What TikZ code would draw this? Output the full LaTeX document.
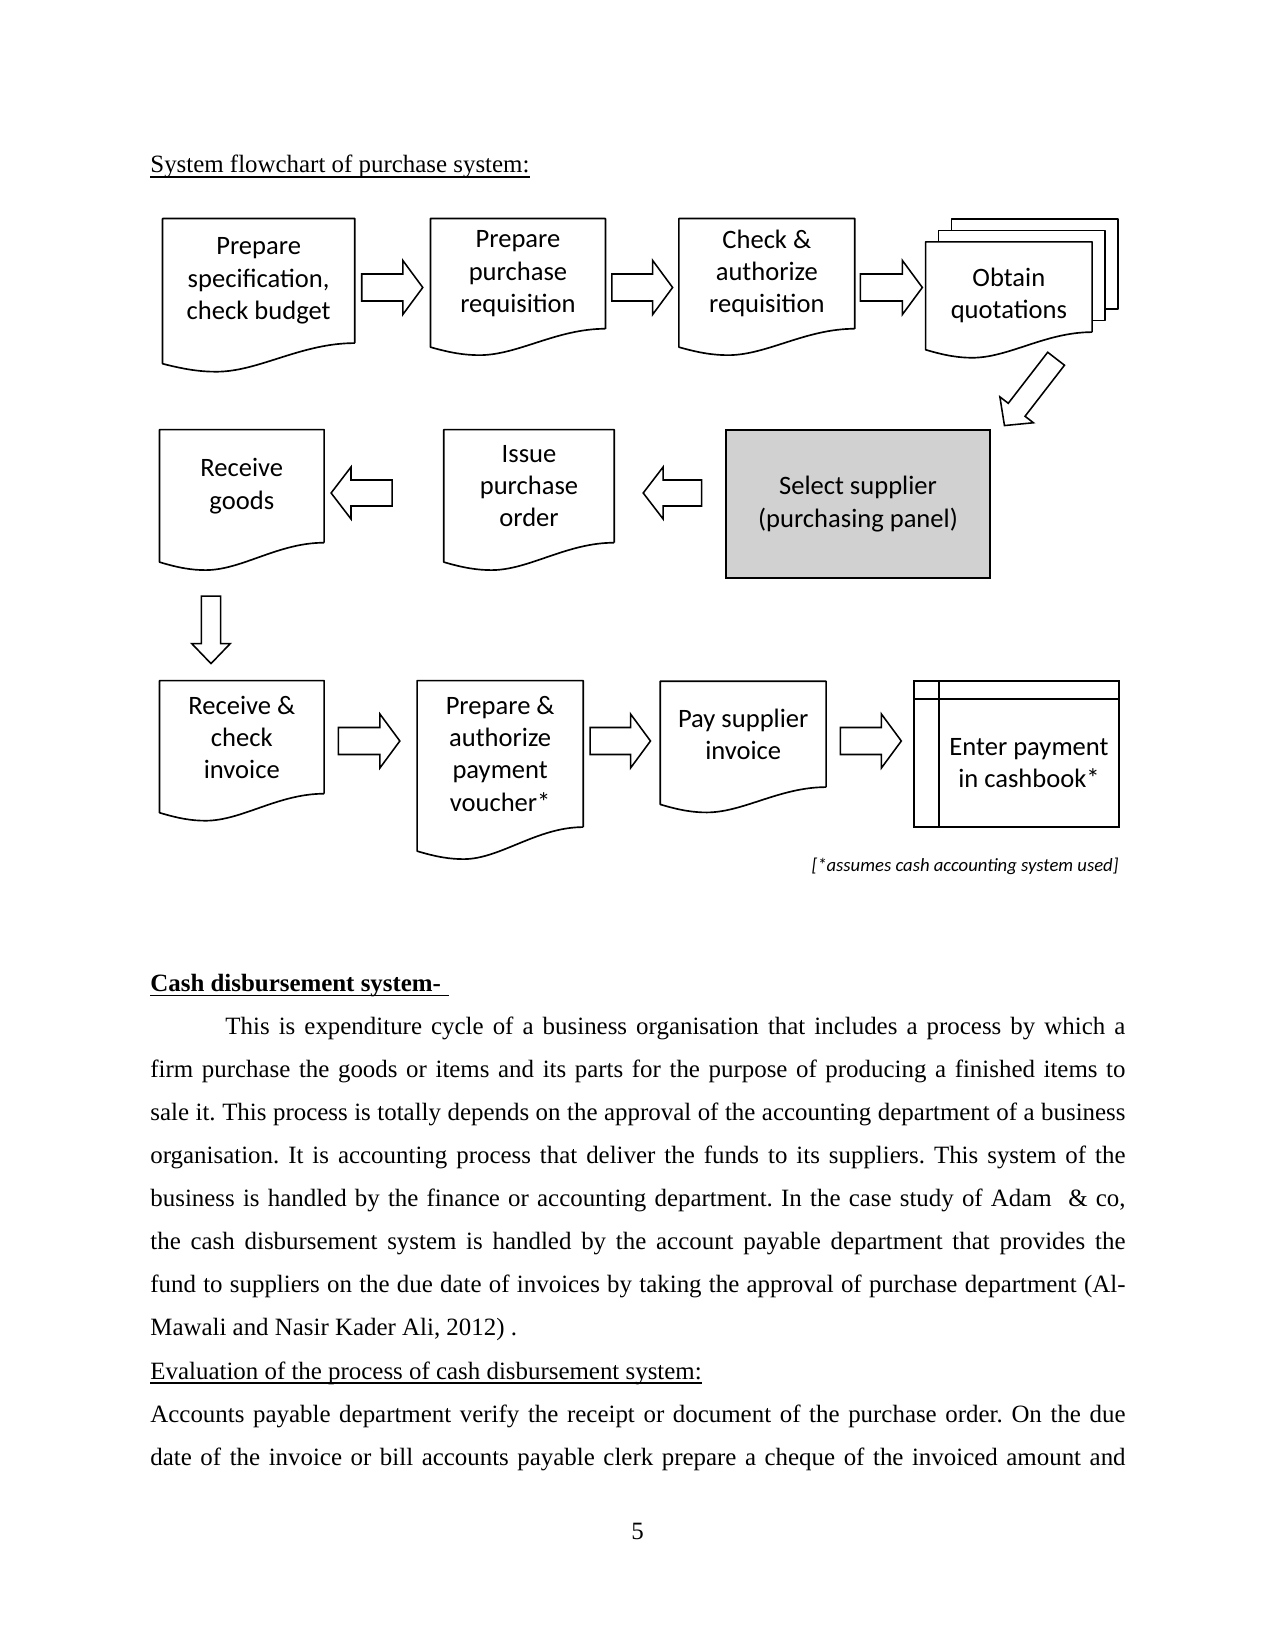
\documentclass[tikz,border=0pt]{standalone}
\usepackage{fontspec}
\setmainfont{Liberation Serif}
\newfontfamily\chartfont{Carlito}
\usetikzlibrary{calc}
\pgfdeclarelayer{background}
\pgfsetlayers{background,main}
\frenchspacing

\tikzstyle{docpage} = [
    rectangle,
    align=center,
    inner sep=0pt,
    font=\chartfont\fontsize{12.8}{15.5}\selectfont
]
\tikzstyle{process} = [
    rectangle,
    draw=black,
    line width=1.1pt,
    fill=black!18,
    align=center,
    font=\chartfont\fontsize{12.8}{15.5}\selectfont
]
\tikzstyle{docline} = [line width=0.8pt, line join=round]
\tikzstyle{blockline} = [line width=0.75pt, line join=miter]
\tikzstyle{ledgerline} = [line width=1pt]
\tikzstyle{bodytext} = [anchor=base west, inner sep=0pt, font=\fontsize{12}{14}\selectfont]
\tikzstyle{underrule} = [line width=0.7pt]

% document symbol: #2 = drop of the left bottom corner (px)
\newcommand{\docwave}[3][]{%
  \draw[docline,#1] (#2.south east) -- (#2.north east) -- (#2.north west)
    -- ($(#2.south west)+(0,#3)$)
    .. controls ($(#2.south west)!0.12!(#2.south east)+(0,#3+6)$)
    and ($(#2.south west)!0.2!(#2.south east)+(0,#3+8)$)
    .. ($(#2.south west)!0.28!(#2.south east)+(0,#3+8)$)
    .. controls ($(#2.south west)!0.5!(#2.south east)+(0,#3+8)$)
    and ($(#2.south west)!0.72!(#2.south east)$)
    .. (#2.south east);}

% hollow block arrow: #1 = half shaft width (px), #2 tail, #3 tip
\newcommand{\blockarrow}[3]{%
  \pgfmathsetlengthmacro{\shafthalf}{#1*0.4818pt}
  \pgfmathsetlengthmacro{\headhalf}{2*#1*0.4818pt}
  \coordinate (tail) at #2;
  \coordinate (tip) at #3;
  \coordinate (neck) at ($(tip)!9.6pt!(tail)$);
  \draw[blockline] ($(tail)!\shafthalf!90:(tip)$) -- ($(neck)!\shafthalf!90:(tip)$)
    -- ($(neck)!\headhalf!90:(tip)$) -- (tip) -- ($(neck)!\headhalf!-90:(tip)$)
    -- ($(neck)!\shafthalf!-90:(tip)$) -- ($(tail)!\shafthalf!-90:(tip)$) -- cycle;}

\begin{document}
\begin{tikzpicture}[x=0.4818pt, y=-0.4818pt]

\useasboundingbox (0,0) rectangle (1275,1651);

\node (title) [bodytext] at (150,173) {System flowchart of purchase system:};
\draw[underrule] ($(title.base west)+(0,4)$) -- ($(title.base east)+(0,4)$);

% flowchart
\node (A) [docpage, minimum width=92.2pt, minimum height=59.6pt] at (258.65,280.85)
{Prepare\\specification,\\check budget};
\node (B) [docpage, minimum width=83.9pt, minimum height=52.7pt] at (517.95,273.65)
{Prepare\\purchase\\requisition};
\node (C) [docpage, minimum width=84.3pt, minimum height=52.7pt] at (766.8,273.65)
{Check \&\\authorize\\requisition};
\node (D) [docpage, minimum width=79.8pt, minimum height=43.1pt] at (1008.85,287)
{\rule{0pt}{17pt}Obtain\\quotations};
\node (E) [process, minimum width=127.2pt, minimum height=71.3pt] at (858,504)
{Select supplier\\(purchasing panel)};
\node (F) [docpage, minimum width=81.7pt, minimum height=54.1pt] at (529,486.15)
{Issue\\purchase\\order};
\node (G) [docpage, minimum width=78.9pt, minimum height=54.1pt] at (241.8,486.15)
{Receive\\goods};
\node (H) [docpage, minimum width=78.9pt, minimum height=54.1pt] at (241.8,737.15)
{Receive \&\\check\\invoice};
\node (I) [docpage, minimum width=79.6pt, minimum height=70.2pt] at (500.15,753.85)
{Prepare \&\\authorize\\payment\\voucher*};
\node (J) [docpage, minimum width=79.5pt, minimum height=50.6pt] at (743.2,734.2)
{Pay supplier\\invoice};
\node (K) [docpage, minimum width=86.7pt, minimum height=61.4pt] at (1029,763)
{Enter payment\\in cashbook*};

\node (note) [anchor=base east, inner sep=0pt, font=\chartfont\itshape\fontsize{9}{11}\selectfont]
at (1119,871.7) {[*assumes cash accounting system used]};

\docwave{A}{20.6}
\docwave{B}{18.4}
\docwave{C}{18.4}
\docwave{F}{19.4}
\docwave{G}{19.4}
\docwave{H}{19}
\docwave{I}{24}
\docwave{J}{17.3}

% several quotations
\begin{pgfonlayer}{background}
\fill[white] (0,0) rectangle (1275,1651);
\filldraw[docline, fill=white] ($(D.north west)+(26,-23)$) rectangle ($(D.south east)+(26,-23)$);
\filldraw[docline, fill=white] ($(D.north west)+(13,-11.5)$) rectangle ($(D.south east)+(13,-11.5)$);
\docwave[fill=white]{D}{17.6}
\end{pgfonlayer}

% cashbook
\draw[ledgerline] ($(K.north west)+(-25,-17.6)$) rectangle (K.south east);
\draw[ledgerline] ($(K.north west)+(-25,0)$) -- (K.north east);
\draw[ledgerline] ($(K.north west)+(0,-17.6)$) -- (K.south west);

\coordinate (row1) at (0,287.5);
\coordinate (row2) at (0,493);
\coordinate (row3) at (0,741);

\blockarrow{13.5}{($(A.east|-row1)+(7,0)$)}{($(B.west|-row1)+(-7.7,0)$)}
\blockarrow{13.5}{($(B.east|-row1)+(6.5,0)$)}{($(C.west|-row1)+(-6.3,0)$)}
\blockarrow{13.5}{($(C.east|-row1)+(5.7,0)$)}{($(D.west|-row1)+(-3.3,0)$)}
\blockarrow{10.6}{($(D.south east)+(-36,26.6)$)}{($(E.north east)+(13.3,-3.3)$)}
\blockarrow{13}{($(E.west|-row2)+(-23.3,0)$)}{($(F.east|-row2)+(29,0)$)}
\blockarrow{13}{($(F.west|-row2)+(-51.6,0)$)}{($(G.east|-row2)+(7,0)$)}
\blockarrow{9.6}{($(G.south)+(-30.8,53.4)$)}{($(H.north)+(-30.8,-17)$)}
\blockarrow{13.5}{($(H.east|-row3)+(14.2,0)$)}{($(I.west|-row3)+(-17.3,0)$)}
\blockarrow{13.5}{($(I.east|-row3)+(6.9,0)$)}{($(J.west|-row3)+(-9.8,0)$)}
\blockarrow{13.5}{($(J.east|-row3)+(14.3,0)$)}{($(K.west|-row3)+(-37.3,0)$)}

% text below the chart
\node (head) [bodytext] at (150,991.7) {\textbf{Cash disbursement system-}};
\draw[underrule] ($(head.base west)+(0,4)$) -- ($(head.base east)+(8,4)$);
\node (line1) [bodytext] at (225,1034.7) {\makebox[433.6pt][s]{This is expenditure cycle of a business organisation that includes a process by which a}};
\node (line2) [bodytext] at (150,1077.8) {\makebox[469.8pt][s]{firm purchase the goods or items and its parts for the purpose of producing a finished items to}};
\node (line3) [bodytext] at (150,1120.8) {\makebox[469.8pt][s]{sale it. This process is totally depends on the approval of the accounting department of a business}};
\node (line4) [bodytext] at (150,1163.8) {\makebox[469.8pt][s]{organisation. It is accounting process that deliver the funds to its suppliers. This system of the}};
\node (line5) [bodytext] at (150,1206.9) {\makebox[469.8pt][s]{business is handled by the finance or accounting department. In the case study of Adam\ \ \& co,}};
\node (line6) [bodytext] at (150,1249.9) {\makebox[469.8pt][s]{the cash disbursement system is handled by the account payable department that provides the}};
\node (line7) [bodytext] at (150,1292.9) {\makebox[469.8pt][s]{fund to suppliers on the due date of invoices by taking the approval of purchase department (Al-}};
\node (line8) [bodytext] at (150,1335.9) {Mawali and Nasir Kader Ali, 2012) .};
\node (evalhead) [bodytext] at (150,1379) {Evaluation of the process of cash disbursement system:};
\draw[underrule] ($(evalhead.base west)+(0,4)$) -- ($(evalhead.base east)+(0,4)$);
\node (line9) [bodytext] at (150,1422) {\makebox[469.8pt][s]{Accounts payable department verify the receipt or document of the purchase order. On the due}};
\node (line10) [bodytext] at (150,1465) {\makebox[469.8pt][s]{date of the invoice or bill accounts payable clerk prepare a cheque of the invoiced amount and}};

\node (page) [bodytext, anchor=base] at (637.5,1539) {5};

\end{tikzpicture}
\end{document}
